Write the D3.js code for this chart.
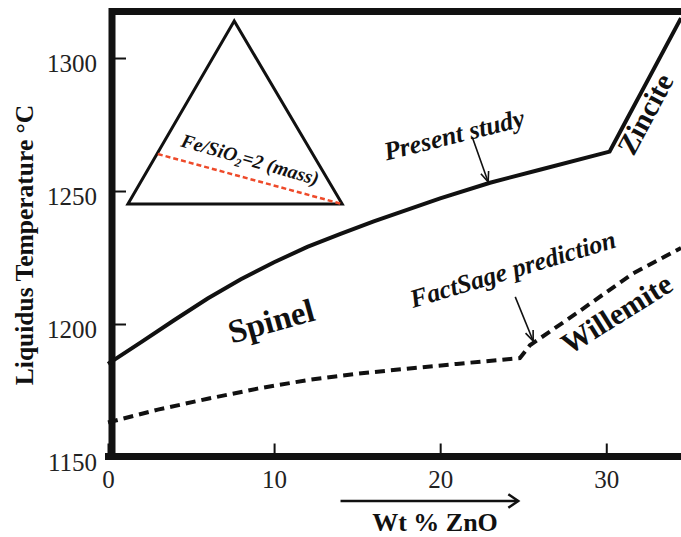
<!DOCTYPE html>
<html>
<head>
<meta charset="utf-8">
<script src="https://cdn.jsdelivr.net/npm/d3@7"></script>
<style>
    body { margin: 0; background: #fff; }
    svg { display: block; }
    svg text { font-family: "Liberation Serif", "Times New Roman", "DejaVu Serif", serif; }
</style>
</head>
<body>
<svg id="chart" width="681" height="537"></svg>
<script>
// liquidus, present study (solid) - spinel branch then zincite branch
const presentX = [0, 2, 4, 6, 8, 10, 12, 14, 16, 18, 20, 23, 26, 30.2, 31.2, 32.1, 33.3, 34.5];
const presentY = [1185, 1193.2, 1201.5, 1209.6, 1216.8, 1223.2, 1229, 1233.9, 1238.6, 1242.9, 1247.2, 1253.1, 1258, 1264.8, 1276.5, 1287, 1301, 1315];

// FactSage prediction (dashed) - spinel then willemite
const factX = [0, 3, 6, 9, 12, 15, 18, 21, 24.8, 25.4, 28.2, 31.6, 34.5];
const factY = [1163, 1167.8, 1171.9, 1175.7, 1178.9, 1181.3, 1183.2, 1185, 1187.2, 1192, 1204, 1219, 1228.6];

const xTicks = [0, 10, 20, 30];
const yTicks = [1150, 1200, 1250, 1300];

// inset composition triangle, in chart units
const triangleX = [7.6, 1.2, 14.1];
const triangleY = [1313.9, 1245.1, 1245.1];
const ratioLineX = [3.0, 14.1];
const ratioLineY = [1263.9, 1245.1];

const regionNames = ['Spinel', 'Willemite', 'Zincite'];
const regionX = [10.0, 30.95, 32.87];
const regionY = [1197.1, 1200.6, 1277.2];

const noteNames = ['Present study', 'FactSage prediction'];
const noteX = [20.96, 24.52];
const noteY = [1268, 1217.5];
const noteArrowX = [[21.93, 22.89], [24.52, 25.6]];
const noteArrowY = [[1270.3, 1253.4], [1210.2, 1193.6]];

const zno = [14, 24.7];

const W = 681, H = 537;
const ink = '#111';
const serif = '"Liberation Serif", "Times New Roman", serif';

const svg = d3.select('#chart');

const x = d3.scaleLinear().domain([0, 34.5]).range([108, 681]);
const y = d3.scaleLinear().domain([1150, 1317.3]).range([457, 12]);

const spineLeft = 112, spineBottom = 456.5, spineTop = 11.5;

const arrowHead = function (g, x1, y1, x2, y2, len, spread, width) {
    const a = Math.atan2(y2 - y1, x2 - x1);
    const p = d3.path();
    p.moveTo(x2 - len * Math.cos(a - spread), y2 - len * Math.sin(a - spread));
    p.lineTo(x2, y2);
    p.lineTo(x2 - len * Math.cos(a + spread), y2 - len * Math.sin(a + spread));
    g.append('path')
        .attr('d', p.toString())
        .attr('fill', 'none')
        .attr('stroke', ink)
        .attr('stroke-width', width)
        .attr('stroke-linejoin', 'miter');
};

// axes
const xAxis = svg.append('g')
    .attr('transform', `translate(0,${spineBottom})`)
    .call(d3.axisBottom(x).tickValues(xTicks).tickFormat(d3.format('d'))
        .tickSizeInner(-13).tickSizeOuter(0).tickPadding(14));
xAxis.attr('font-family', serif).attr('font-size', null);
xAxis.select('.domain').remove();
xAxis.selectAll('line').attr('stroke', ink).attr('stroke-width', 2);
xAxis.selectAll('text').attr('font-size', 25).attr('fill', '#222');

const yAxis = svg.append('g')
    .attr('transform', `translate(${spineLeft},0)`)
    .call(d3.axisLeft(y).tickValues(yTicks).tickFormat(d3.format('d'))
        .tickSizeInner(-14).tickSizeOuter(0).tickPadding(15));
yAxis.attr('font-family', serif).attr('font-size', null);
yAxis.select('.domain').remove();
yAxis.selectAll('line').attr('stroke', ink).attr('stroke-width', 2);
yAxis.selectAll('text').attr('font-size', 25).attr('fill', '#222').attr('dy', '0.54em');

// frame
svg.append('path')
    .attr('d', `M${spineLeft},${spineBottom}V${spineTop}H${W + 5}M${spineLeft - 3.5},${spineBottom}H${W + 5}`)
    .attr('fill', 'none')
    .attr('stroke', ink)
    .attr('stroke-width', 7)
    .attr('stroke-linecap', 'square');

// curves
const line = d3.line().x(d => x(d[0])).y(d => y(d[1]));
const plot = svg.append('g');

plot.append('path')
    .attr('d', line(d3.zip(presentX, presentY)))
    .attr('fill', 'none')
    .attr('stroke', ink)
    .attr('stroke-width', 4)
    .attr('stroke-linejoin', 'miter');

plot.append('path')
    .attr('d', line(d3.zip(factX, factY)))
    .attr('fill', 'none')
    .attr('stroke', ink)
    .attr('stroke-width', 4)
    .attr('stroke-dasharray', '10 6');

// inset triangle
plot.append('path')
    .attr('d', line(d3.zip(triangleX, triangleY)) + 'Z')
    .attr('fill', 'none')
    .attr('stroke', ink)
    .attr('stroke-width', 3);

plot.append('path')
    .attr('d', line(d3.zip(ratioLineX, ratioLineY)))
    .attr('stroke', '#ee4a2a')
    .attr('stroke-width', 2.5)
    .attr('stroke-dasharray', '5 3');

const rot = (i, xs, ys, angle) => `translate(${x(xs[i])},${y(ys[i])}) rotate(${angle})`;

const fe = plot.append('text')
    .attr('transform', `translate(${x(8.45)},${y(1259.5)}) rotate(16)`)
    .attr('text-anchor', 'middle')
    .attr('font-family', serif)
    .attr('font-size', 19.5)
    .attr('font-weight', 'bold')
    .attr('font-style', 'italic')
    .attr('fill', ink);
fe.append('tspan').text('Fe/SiO');
fe.append('tspan').attr('font-size', 12).attr('dy', 4).text('2');
fe.append('tspan').attr('dy', -4).text('=2 (mass)');

// phase field labels
const regionAngle = [-15.5, -32, -62];
const regionSize = [33, 30, 29];
regionNames.forEach((name, i) => {
    plot.append('text')
        .attr('transform', rot(i, regionX, regionY, regionAngle[i]))
        .attr('text-anchor', 'middle')
        .attr('font-family', serif)
        .attr('font-size', regionSize[i])
        .attr('font-weight', 'bold')
        .attr('fill', ink)
        .text(name);
});

// curve annotations
const noteAngle = [-14, -16.6];
const noteSize = [26, 25.7];
noteNames.forEach((name, i) => {
    plot.append('text')
        .attr('transform', rot(i, noteX, noteY, noteAngle[i]))
        .attr('text-anchor', 'middle')
        .attr('font-family', serif)
        .attr('font-size', noteSize[i])
        .attr('font-weight', 'bold')
        .attr('font-style', 'italic')
        .attr('fill', ink)
        .text(name);

    const x1 = x(noteArrowX[i][0]), y1 = y(noteArrowY[i][0]);
    const x2 = x(noteArrowX[i][1]), y2 = y(noteArrowY[i][1]);
    plot.append('line')
        .attr('x1', x1).attr('y1', y1)
        .attr('x2', x2).attr('y2', y2)
        .attr('stroke', ink)
        .attr('stroke-width', 1.6);
    arrowHead(plot, x1, y1, x2, y2, 11, 0.38, 1.6);
});

// axis titles
svg.append('text')
    .attr('transform', `translate(33,245) rotate(-90)`)
    .attr('text-anchor', 'middle')
    .attr('font-family', serif)
    .attr('font-size', 25.5)
    .attr('font-weight', 'bold')
    .attr('fill', ink)
    .text('Liquidus Temperature \u00B0C');

svg.append('line')
    .attr('x1', x(zno[0])).attr('y1', 501)
    .attr('x2', x(zno[1])).attr('y2', 501)
    .attr('stroke', ink)
    .attr('stroke-width', 2.5);
arrowHead(svg, x(zno[0]), 501, x(zno[1]), 501, 12, 0.6, 2.5);

svg.append('text')
    .attr('x', 435)
    .attr('y', 531)
    .attr('text-anchor', 'middle')
    .attr('font-family', serif)
    .attr('font-size', 26)
    .attr('font-weight', 'bold')
    .attr('fill', ink)
    .text('Wt % ZnO');
</script>
</body>
</html>
